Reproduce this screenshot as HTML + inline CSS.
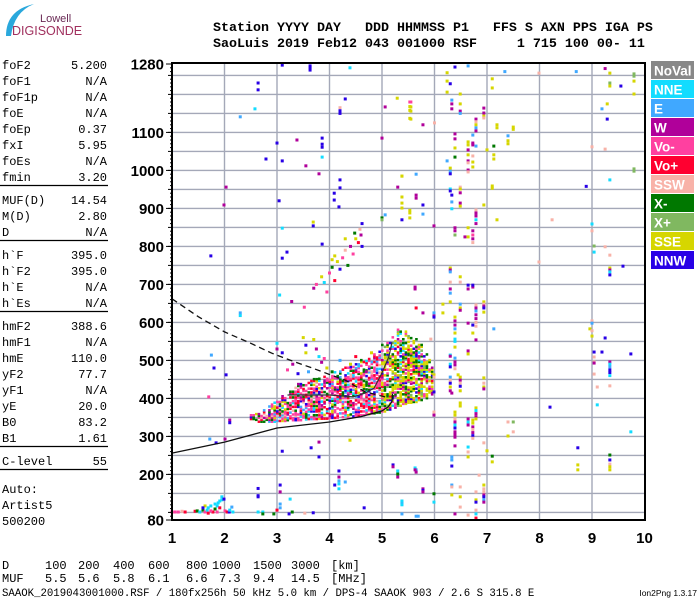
<!DOCTYPE html>
<html><head><meta charset="utf-8">
<style>
html,body{margin:0;padding:0;background:#fff;}
body{width:700px;height:600px;overflow:hidden;position:relative;}
svg{display:block;}
.mono{font-family:"Liberation Mono",monospace;}
.ax{font-family:"Liberation Sans",sans-serif;font-weight:bold;}
</style></head>
<body>
<svg id="chart" width="700" height="600" viewBox="0 0 700 600" xmlns="http://www.w3.org/2000/svg">
  <g>
    <path d="M6,36 Q6,10 34,4 Q14,12 11,36 Z" fill="#2aa8dc"/>
    <text x="40" y="22" font-family="Liberation Sans,sans-serif" font-size="11" fill="#6a2a55">Lowell</text>
    <text x="12" y="35" font-family="Liberation Sans,sans-serif" font-size="12.5" fill="#a0305e">DIGISONDE</text>
  </g>
  <g class="mono" font-weight="bold" font-size="13.33" fill="#000">
    <text x="213" y="31" xml:space="preserve">Station YYYY DAY   DDD HHMMSS P1   FFS S AXN PPS IGA PS</text>
    <text x="213" y="47" xml:space="preserve">SaoLuis 2019 Feb12 043 001000 RSF     1 715 100 00- 11</text>
  </g>
  <g id="leftpanel" class="mono" font-size="12" fill="#000"></g>
  <g id="grid"></g>
  <g id="cluster"></g>
  <g id="scatter"></g>
  <g id="curves"></g>
  <g id="frame"></g>
  <g id="yaxis" class="ax"></g>
  <g id="xaxis" class="ax"></g>
  <g id="legend"></g>
  <g id="mufrow" class="mono" font-size="12" fill="#000"></g>
  <text x="2" y="596" class="mono" font-size="10.7" fill="#000">SAAOK_2019043001000.RSF / 180fx256h 50 kHz 5.0 km / DPS-4 SAAOK 903 / 2.6 S 315.8 E</text>
  <text x="697" y="596" text-anchor="end" font-family="Liberation Sans,sans-serif" font-size="8.5" fill="#000">Ion2Png 1.3.17</text>
</svg>
<script>
const NS="http://www.w3.org/2000/svg";
// ---------- data ----------
const dirNames=['NoVal','NNE','E','W','Vo-','Vo+','SSW','X-','X+','SSE','NNW'];
const dirColors=['#888888','#12dcff','#40a8ff','#b0009a','#ff40a0','#ff0030','#f8b2a8','#007800','#80b860','#d6d600','#2800e6'];
const yTickLabels=[1280,1100,1000,900,800,700,600,500,400,300,200,80];
const xTickLabels=[1,2,3,4,5,6,7,8,9,10];
const paramNames=['foF2','foF1','foF1p','foE','foEp','fxI','foEs','fmin','MUF(D)','M(D)','D','h`F','h`F2','h`E','h`Es','hmF2','hmF1','hmE','yF2','yF1','yE','B0','B1','C-level'];
const paramValues=['5.200','N/A','N/A','N/A','0.37','5.95','N/A','3.20','14.54','2.80','N/A','395.0','395.0','N/A','N/A','388.6','N/A','110.0','77.7','N/A','20.0','83.2','1.61','55'];
const mufDist=['100','200','400','600','800','1000','1500','3000'];
const mufFreq=['5.5','5.6','5.8','6.1','6.6','7.3','9.4','14.5'];
// dense F-trace region: column freq and height span
const clusterFreq=[2.5,2.6,2.7,2.8,2.9,3.0,3.1,3.2,3.3,3.4,3.5,3.6,3.7,3.8,3.9,4.0,4.1,4.2,4.3,4.4,4.5,4.6,4.7,4.8,4.9,5.0,5.1,5.2,5.3,5.4,5.5,5.6,5.7,5.8,5.9];
const clusterLow=[340,338,338,338,338,340,340,342,342,342,344,345,345,346,346,348,348,350,350,352,354,355,358,360,362,365,370,375,380,385,388,390,395,400,410];
const clusterHigh=[355,365,375,385,392,400,410,420,430,440,442,445,450,455,458,460,468,475,482,490,495,500,508,515,528,540,550,560,580,575,565,555,540,520,500];
// scattered echoes
const scatterFreq=[3.10,3.63,3.63,3.63,4.39,2.64,2.64,2.58,2.30,4.30,4.20,4.20,4.20,5.29,5.53,5.53,5.53,5.53,5.06,3.38,3.86,3.86,3.86,5.0,3.0,2.79,3.10,3.86,3.55,3.80,2.03,1.99,4.20,4.20,4.09,4.09,4.18,3.04,5.30,5.38,5.38,5.38,5.38,5.53,5.53,5.53,5.38,3.69,3.69,3.10,1.74,3.10,3.19,3.86,5.0,5.0,5.06,
3.7,3.75,3.85,3.9,4.0,4.05,4.1,4.15,4.2,4.25,4.3,4.35,4.4,4.45,4.5,4.55,4.6,4.62,4.1,3.95,4.3,4.48,4.58,4.62,3.28,3.52,4.05,
3.0,3.0,3.1,3.5,3.55,3.55,3.7,3.75,3.8,3.85,3.9,3.95,4.05,3.3,3.2,3.4,3.6,4.2,4.4,4.5,4.7,4.8,
3.05,2.30,2.30,1.75,1.80,2.03,1.70,2.10,2.10,1.72,1.84,2.01,
6.39,6.64,9.25,6.24,7.34,7.99,8.70,9.34,9.80,9.80,6.24,6.30,7.10,9.34,9.34,9.55,9.80,6.24,6.49,7.10,9.80,5.55,6.33,6.33,6.33,6.49,6.49,6.49,5.55,5.55,9.29,9.19,9.29,6.94,6.94,6.94,6.94,5.55,5.78,6.0,7.19,7.19,7.50,7.50,6.79,6.79,6.79,6.79,6.79,6.39,6.39,6.73,6.64,6.64,6.73,6.73,6.79,7.40,7.40,7.40,7.13,6.39,6.39,6.64,6.64,6.73,6.73,7.0,7.13,7.13,6.24,6.64,6.64,9.0,9.25,6.30,6.30,6.30,6.73,6.64,6.64,9.80,9.80,5.38,5.65,9.34,7.10,7.10,8.89,6.30,6.30,6.49,6.49,6.49,6.33,5.65,5.65,6.33,6.33,6.49,6.49,5.78,6.94,5.78,6.79,6.79,6.79,6.79,6.79,7.19,8.24,5.99,9.0,6.39,6.39,6.39,6.64,6.64,6.73,6.73,6.73,6.73,9.0,6.58,9.25,9.34,9.34,9.34,9.34,9.34,9.04,9.04,6.30,6.30,6.30,7.99,9.59,6.49,6.49,6.30,6.30,6.64,6.64,6.73,6.73,5.63,5.63,
5.65,5.78,5.99,5.99,5.99,6.16,6.16,6.30,6.30,6.39,6.39,6.39,6.49,6.49,6.49,6.79,6.79,6.79,6.79,6.79,6.79,6.79,6.94,6.94,6.94,6.94,6.94,6.64,6.73,6.73,6.39,6.39,7.13,9.0,9.0,8.96,9.0,9.0,9.25,5.93,6.39,6.39,6.39,6.79,6.64,6.64,9.04,9.19,9.74,9.04,9.04,6.30,6.30,6.30,6.30,6.39,6.39,6.39,6.39,9.04,9.34,9.34,9.34,9.34,9.34,9.34,5.99,5.99,6.45,6.49,6.49,6.49,6.49,6.49,6.30,6.30,6.30,6.30,6.30,6.94,6.94,6.94,6.94,9.04,9.10,9.34,5.99,6.33,9.10,8.20,5.99,5.99,6.49,6.49,6.79,6.79,6.79,6.79,6.79,6.39,6.39,6.39,6.39,6.39,6.39,6.39,6.39,6.39,6.64,6.64,6.64,6.73,6.73,6.73,6.73,6.73,6.73,6.73,7.40,7.50,7.50,7.40,9.74,6.94,6.39,6.64,6.64,6.64,7.0,7.10,7.10,8.73,8.73,8.73,9.34,9.34,9.34,9.34,9.34,6.33,6.33,6.33,5.65,5.65,6.85,5.78,5.78,5.78,6.33,6.33,6.94,6.94,6.94,6.94,6.94,6.94,6.94,6.49,6.49,6.33,6.79,6.79,6.79,5.99,5.99,5.38,5.38,6.39,6.49,6.64,6.79,6.79,6.79,5.65,
1.0,1.06,1.12,1.19,1.25,1.44,1.48,1.53,1.59,1.63,1.67,1.69,1.69,1.74,1.78,1.82,1.86,1.88,1.91,1.95,1.95,1.99,2.01,2.05,2.09,2.10,2.14,2.16,1.63,1.82,1.91,1.74,1.86,1.59,
2.64,2.64,2.64,2.64,2.73,2.73,2.94,3.0,3.06,3.06,3.06,3.06,3.25,3.29,3.10,3.65,3.80,3.80,3.69,4.18,4.18,4.18,4.18,4.18,4.10,4.30,4.39,4.66,5.21,5.21,5.30,5.30,5.30,5.38,5.38,5.38,5.63,5.63,5.69,3.53,3.23];
const scatterHeight=[1277,1275,1270,1264,1270,1230,1212,1162,1141,1188,1165,1157,1150,1190,1180,1168,1158,1137,1167,1080,1085,1069,1061,1085,1072,1030,1025,1035,1012,991,956,909,975,954,940,922,904,920,956,985,930,914,901,895,888,875,870,864,854,848,775,769,785,806,875,870,883,
690,700,720,705,730,745,710,760,740,770,790,750,800,780,820,810,830,800,775,680,820,835,845,860,655,640,765,
545,530,520,560,540,520,555,530,510,495,505,480,470,490,475,465,470,500,490,510,470,520,
672,625,618,514,480,462,404,343,336,293,283,293,
1272,1275,1268,1257,1260,1256,1260,1256,1254,1248,1235,1228,1241,1230,1222,1222,1235,1206,1201,1217,1201,1180,1185,1175,1162,1175,1156,1150,1167,1156,1175,1162,1135,1164,1151,1143,1138,1135,1120,1125,1120,1112,1114,1108,1135,1128,1120,1112,1104,1096,1083,1093,1075,1067,1067,1072,1064,1091,1078,1070,1064,1059,1035,1054,1041,1038,1022,1054,1041,1030,1025,1025,1020,1062,1056,1006,998,991,1009,1001,996,1004,998,985,990,975,959,953,958,951,946,956,951,941,935,935,927,917,899,914,906,909,909,885,896,888,880,870,860,870,870,854,859,849,841,830,849,825,841,830,820,810,841,825,799,777,743,738,733,725,801,785,743,738,733,759,748,720,706,706,688,698,688,693,698,688,693,
638,625,625,617,614,648,625,654,677,614,604,593,648,638,632,646,638,630,620,610,600,590,654,648,643,638,627,598,593,572,583,572,583,604,598,583,578,564,559,556,556,550,535,554,525,517,522,522,517,509,496,514,511,490,483,506,496,488,478,493,496,490,483,475,468,460,462,456,462,456,448,440,432,420,456,448,440,430,420,454,440,430,425,464,430,433,417,414,383,377,364,356,388,380,375,368,360,352,346,364,356,346,338,330,322,312,305,298,346,338,330,343,335,325,318,310,302,295,338,338,312,301,312,283,275,272,259,246,262,248,233,270,225,212,251,238,227,220,212,246,238,222,212,206,198,162,158,154,172,167,172,162,154,146,141,133,127,167,141,146,154,133,127,149,127,127,122,96,114,93,106,96,85,90,
101,101,101,103,101,103,104,101,106,101,106,98,112,117,101,109,117,125,130,133,141,135,104,101,101,106,114,101,117,122,112,104,101,112,
163,144,141,101,101,96,96,106,172,154,122,112,135,101,261,270,285,246,99,209,193,183,175,162,172,180,290,112,225,220,209,193,201,130,120,96,217,212,90,98,96];
const scatterDir=['NNW','NNW','NNW','NNW','NNE','NNW','NNW','NNE','E','NNW','SSW','NNW','NNW','SSE','Vo-','SSE','SSE','SSE','W','W','NNW','NNW','NNW','W','NNW','NNW','NNW','NNE','W','W','W','W','NNW','NNW','NNW','NNW','NNW','NNW','W','SSE','SSE','SSE','SSE','SSE','SSE','SSE','NNW','SSE','NNW','NNE','NNW','NNW','NNW','NNW','X-','X+','E',
'W','Vo-','SSE','NNE','Vo-','X-','Vo+','SSE','NNW','Vo-','SSW','X-','W','Vo-','SSE','Vo+','W','NNW','SSE','Vo-','SSE','X-','SSW','NNW','W','Vo-','SSE',
'NNE','W','NNW','SSE','NNW','SSE','SSE','W','NNE','W','Vo-','SSE','X-','W','Vo-','NNW','E','E','SSE','Vo+','W','SSE',
'NNE','E','NNE','E','NNW','NNW','Vo-','W','NNW','E','NNW','W',
'NNW','E','W','SSE','E','SSW','E','SSE','X+','X+','SSE','NNW','SSE','X+','SSE','NNW','SSE','SSE','SSE','SSE','SSE','Vo-','E','W','W','SSE','W','E','SSE','SSE','SSE','E','NNW','W','W','SSE','SSW','SSE','W','SSW','SSE','SSE','SSE','SSE','W','SSW','SSE','E','W','W','W','E','SSE','SSE','W','W','E','E','SSE','SSE','X-','SSE','X-','W','SSE','SSW','SSE','SSE','SSE','SSE','E','W','SSW','SSW','SSW','SSE','E','NNW','SSE','W','SSW','X+','X+','SSE','E','NNE','SSE','SSE','NNW','NNE','NNW','SSW','SSE','W','NNW','W','W','E','NNE','W','SSE','NNW','SSE','E','SSW','W','W','NNE','W','SSE','SSW','W','NNE','W','W','X+','SSE','SSE','W','Vo-','W','SSW','SSW','W','SSW','SSW','SSE','W','NNE','NNW','X+','NNE','SSE','W','E','SSW','NNW','SSE','SSW','SSW','W','NNW','W','W','NNW','W','W',
'Vo+','W','E','W','NNW','SSE','SSE','SSE','E','SSE','W','W','E','SSE','W','SSW','W','E','W','W','SSW','SSW','SSE','SSW','W','NNW','SSE','W','NNW','SSE','E','SSE','E','SSW','E','SSE','SSW','SSE','NNW','SSW','NNE','NNE','SSE','W','W','SSE','NNW','NNW','NNW','SSW','SSW','NNE','W','NNE','NNW','E','W','W','SSW','W','W','NNE','E','NNW','NNW','NNE','SSE','SSW','SSE','SSE','W','SSW','NNW','SSE','E','SSW','NNW','SSE','W','SSE','SSW','SSE','W','SSW','SSW','SSW','NNW','W','NNE','NNW','SSW','W','SSE','SSE','SSE','NNE','W','W','SSE','SSE','SSE','SSW','W','NNE','NNW','W','W','W','W','NNE','W','SSE','SSE','W','SSW','W','NNW','SSW','SSW','X+','SSW','SSE','NNE','SSW','W','NNE','SSW','SSE','SSE','X-','SSE','NNW','SSE','SSE','X-','NNW','SSW','SSE','SSE','E','E','NNW','E','W','SSW','W','NNW','W','E','SSW','SSE','SSW','SSW','W','NNW','E','W','SSW','SSE','SSE','SSW','SSE','NNW','X-','NNE','E','E','W','SSW','SSW','SSW','NNE','Vo+','E',
'Vo-','Vo-','Vo-','SSW','Vo+','Vo+','X-','NNE','X-','Vo-','NNE','Vo+','NNE','NNE','Vo+','X-','NNE','NNE','NNE','NNE','NNE','NNW','Vo-','Vo+','NNW','NNE','E','NNE','SSE','NNE','Vo+','Vo-','Vo-','NNW',
'NNW','NNW','NNW','NNE','NNE','X-','X-','Vo+','NNW','W','E','E','NNE','X-','NNW','NNW','W','NNW','NNW','NNW','W','E','NNE','NNE','NNW','E','SSE','NNW','NNW','W','NNE','W','X-','NNE','NNE','E','NNE','W','E','SSW','NNW'];
const solidFreq=[1.0,2.0,3.0,4.0,4.6,5.0,5.12,5.19,5.2];
const solidHeight=[256,285,322,338,352,367,378,392,412];
const traceFreq=[3.2,4.0,4.45,4.68,4.85,5.0,5.13,5.19];
const traceHeight=[409,409,404,414,427,467,509,548];
const dashFreq=[1.0,1.5,2.0,2.5,2.9,3.3,3.67,4.0,4.3,4.68,5.06];
const dashHeight=[662,615,575,545,519,498,480,463,448,417,404];

// ---------- scales ----------
const X0=172,X1=645,Y0=520;
function xs(f){return X0+(f-1)*52.5;}
function ys(h){return Y0-(h-80)*0.38;}
function el(tag,attrs,parent){const e=document.createElementNS(NS,tag);for(const k in attrs)e.setAttribute(k,attrs[k]);parent.appendChild(e);return e;}
const colorOf=d=>dirColors[dirNames.indexOf(d)];

// ---------- left panel ----------
const lp=document.getElementById('leftpanel');
const sepAfter={'fmin':1,'D':1,'h`Es':1,'B1':1,'C-level':1};
let py=69;
paramNames.forEach((n,i)=>{
  const t=el('text',{x:2,y:py},lp);t.textContent=n;
  
  
  const v=el('text',{x:107,y:py,'text-anchor':'end'},lp);v.textContent=paramValues[i];
  
  
  py+=16;
  if(sepAfter[n]){const l=el('line',{x1:0,x2:108,y1:py-11.5,y2:py-11.5,stroke:'#000','stroke-width':1.3},lp);
    
    
    py+=7;}
});
['Auto:','Artist5','500200'].forEach((s,i)=>{const t=el('text',{x:2,y:493+i*16},lp);t.textContent=s;
  
  });

// ---------- grid ----------
const g=document.getElementById('grid');
for(let h=100;h<=1250;h+=50){const l=el('line',{x1:X0,x2:X1,y1:ys(h),y2:ys(h),stroke:'#a4a8b8','stroke-width':1.4},g);
  
  }
xTickLabels.forEach(f=>{if(f>1&&f<10){const l=el('line',{x1:xs(f),x2:xs(f),y1:ys(1280),y2:Y0,stroke:'#a4a8b8','stroke-width':1.4},g);
  
  }});

// ---------- cluster ----------
const cl=document.getElementById('cluster');
const lowPal=['Vo-','Vo-','Vo-','Vo-','Vo+','Vo+','X-','X-','NNW','W','SSE','SSW','NNE','Vo-','E','Vo+'];
const highPal=['SSE','SSE','SSE','SSE','SSE','X-','X-','X+','Vo-','Vo-','Vo+','NNW','W','SSE','NNE','X-'];
function hsh(a,b){let v=(a*374761393+b*668265263)>>>0;v=((v^(v>>>13))*1274126177)>>>0;return (v^(v>>>16))>>>0;}
clusterFreq.forEach((f,i)=>{
  for(let s=0;s<2;s++){
    const ff=f+s*0.05;
    for(let h=clusterLow[i],j=0;h<=clusterHigh[i];h+=5,j++){
      const r=hsh(i*2+s,j);
      const edge=(h>clusterHigh[i]-25)?50:30;
      if(r%100<edge)continue;
      const pal=f>=5.0?highPal:lowPal;
      const c=el('rect',{x:xs(ff)-1,y:ys(h)-1.5,width:2.6,height:2.5,fill:colorOf(pal[(r>>>8)%pal.length])},cl);
      
      
    }
  }
});

// ---------- scatter ----------
const sc=document.getElementById('scatter');
scatterFreq.forEach((f,i)=>{
  if(scatterHeight[i]===undefined)return;
  const d=scatterDir[i]||'NNW';
  const r=el('rect',{x:xs(f)-1.5,y:ys(scatterHeight[i])-1.5,width:3,height:3,fill:colorOf(d)},sc);
  
  
});

// ---------- curves ----------
const cv=document.getElementById('curves');
function pathOf(F,H){return F.map((f,i)=>(i?'L':'M')+xs(f).toFixed(1)+','+ys(H[i]).toFixed(1)).join(' ');}
let p=el('path',{d:pathOf(solidFreq,solidHeight),fill:'none',stroke:'#111','stroke-width':1.3},cv);


p=el('path',{d:pathOf(traceFreq,traceHeight),fill:'none',stroke:'#333','stroke-width':1.2},cv);


p=el('path',{d:pathOf(dashFreq,dashHeight),fill:'none',stroke:'#111','stroke-width':1.3,'stroke-dasharray':'6,4'},cv);



// ---------- frame ----------
const fr=document.getElementById('frame');
p=el('rect',{x:X0,y:ys(1280)-1,width:X1-X0,height:Y0-ys(1280)+1,fill:'none',stroke:'#000','stroke-width':2},fr);



// ---------- y axis ----------
const ya=document.getElementById('yaxis');
for(let h=80;h<=1280;h+=10){const big=(h%50===0);
  const t=el('line',{x1:X0-(big?4:2),x2:X0,y1:ys(h),y2:ys(h),stroke:'#000','stroke-width':1},ya);
  
  }
yTickLabels.forEach(v=>{
  const t=el('line',{x1:X0-6,x2:X0,y1:ys(v),y2:ys(v),stroke:'#000','stroke-width':1},ya);
  
  
  const tx=el('text',{x:X0-8,y:ys(v)+5.5,'text-anchor':'end','font-size':15,fill:'#000'},ya);
  tx.textContent=v;
  
  
});
// ---------- x axis ----------
const xa=document.getElementById('xaxis');
xTickLabels.forEach(v=>{
  const tx=el('text',{x:xs(v),y:543,'text-anchor':'middle','font-size':15,fill:'#000'},xa);
  tx.textContent=v;
  
  
});

// ---------- legend ----------
const lg=document.getElementById('legend');
dirNames.forEach((n,i)=>{
  const r=el('rect',{x:651,y:61+i*19,width:43,height:18,fill:dirColors[i]},lg);
  
  
  const t=el('text',{x:654,y:61+i*19+14.5,'font-family':'Liberation Sans,sans-serif','font-weight':'bold','font-size':13.5,fill:'#fff'},lg);
  t.textContent=n;
  
  
});

// ---------- MUF table ----------
const mr=document.getElementById('mufrow');
const colX=[45,78,113,148,186,212,253,291];
let t=el('text',{x:2,y:569},mr);t.textContent='D';


t=el('text',{x:2,y:582},mr);t.textContent='MUF';


mufDist.forEach((d,i)=>{
  const a=el('text',{x:colX[i],y:569},mr);a.textContent=d;
  
  
  const xm=colX[i]+(i===5?7:0);
  const b=el('text',{x:xm,y:582},mr);b.textContent=mufFreq[i];
  
  
});
t=el('text',{x:331,y:569},mr);t.textContent='[km]';


t=el('text',{x:331,y:582},mr);t.textContent='[MHz]';


</script>
</body></html>
